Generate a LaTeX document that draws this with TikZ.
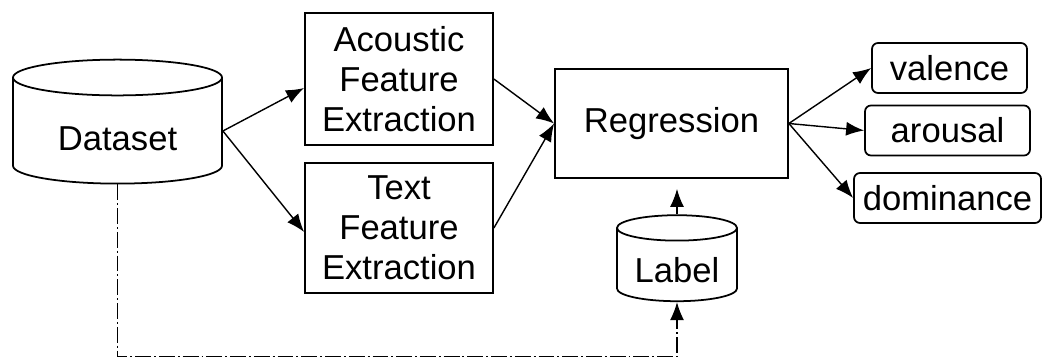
\documentclass[tikz,border=0pt]{standalone}
\usepackage{fontspec}
\setmainfont{Liberation Sans}
\usepackage{tikz}
\usetikzlibrary{shapes.geometric,arrows.meta,positioning}

\begin{document}
\begin{tikzpicture}[>={Latex[length=3.6mm,width=2.8mm]}, line width=0.8pt,
    font=\fontsize{19.7}{22.8}\selectfont,
    caja/.style={draw, line width=1pt, align=center, inner sep=2pt},
    salida/.style={draw, line width=1pt, rounded corners=0.12cm, minimum height=1cm, inner sep=2pt},
    bd/.style={draw, line width=1pt, cylinder, shape border rotate=90, aspect=0.3, inner sep=0pt},
    puntos/.style={dash pattern=on 9pt off 1.7pt on 1.1pt off 1.7pt}]
    \useasboundingbox (0,0) rectangle (20.86,-7.16);

    % Nodos principales
    \node[bd, minimum width=4.18cm, minimum height=2.48cm, text height=0.78cm] (ds) at (2.35,-2.62) {Dataset};
    \node[caja, minimum width=3.76cm, minimum height=2.64cm] (acou) at (7.98,-1.58) {Acoustic\\Feature\\Extraction};
    \node[caja, minimum width=3.76cm, minimum height=2.6cm] (txt) at (7.98,-4.56) {Text\\Feature\\Extraction};
    \node[caja, minimum width=4.66cm, minimum height=2.18cm] (reg) at (13.43,-2.47) {Regression};
    \node[bd, minimum width=2.4cm, minimum height=1.72cm, text height=0.7cm] (lab) at (13.54,-5.3) {Label};

    % Salidas
    \node[salida, minimum width=3.1cm] (val) at (18.99,-1.36) {valence};
    \node[salida, minimum width=3.3cm] (aro) at (18.95,-2.61) {arousal};
    \node[salida, minimum width=3.74cm] (dom) at (18.95,-3.96) {dominance};

    % Flechas
    \draw[->] (ds.east) -- ([yshift=-0.18cm]acou.west);
    \draw[->] (ds.east) -- ([yshift=-0.08cm]txt.west);
    \draw[->] (acou.east) -- (reg.west);
    \draw[->] (txt.east) -- (reg.west);
    \draw[->] (reg.east) -- (val.west);
    \draw[->] (reg.east) -- (aro.west);
    \draw[->] (reg.east) -- (dom.west);
    \draw[->, shorten >=0.2cm] (lab.north) -- (lab.north |- reg.south);

    % Linea punteada de Dataset a Label
    \coordinate (abajo) at (13.54,-7.13);
    \draw[->, puntos] (ds.south) |- (abajo) -- (lab.south);
\end{tikzpicture}
\end{document}
